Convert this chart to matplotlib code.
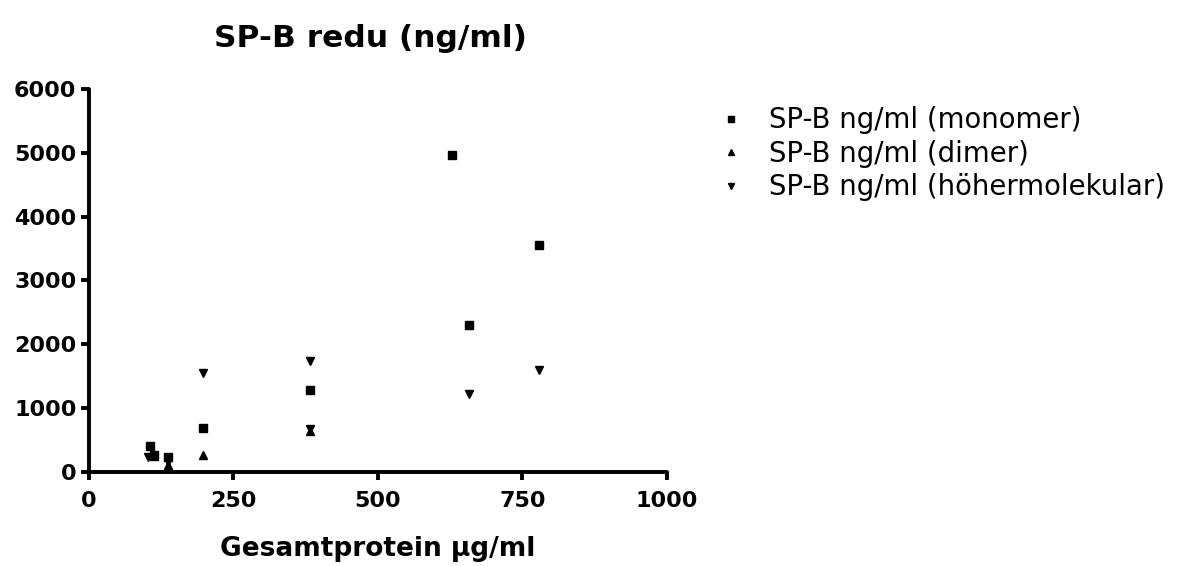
import matplotlib
matplotlib.use('Agg')
import matplotlib.pyplot as plt
import numpy as np

# ── data ─────────────────────────────────────────
x_mono = [105, 113, 137, 198, 383, 628, 657, 779]
y_mono = [410, 255, 225, 685, 1285, 4970, 2300, 3560]

x_dimer = [113, 137, 198, 383]
y_dimer = [250, 110, 265, 640]

x_hoch = [103, 137, 198, 383, 383, 657, 779]
y_hoch = [231, 145, 1540, 1730, 665, 1222, 1590]

labels = ['SP-B ng/ml (monomer)', 'SP-B ng/ml (dimer)', 'SP-B ng/ml (höhermolekular)']
xticks = [0, 250, 500, 750, 1000]
yticks = [0, 1000, 2000, 3000, 4000, 5000, 6000]

plt.rcParams['font.family'] = ['DejaVu Sans']

fig = plt.figure(figsize=(11.83, 5.66), dpi=100)
ax = fig.add_axes([0.0752, 0.1666, 0.4886, 0.6762])

ax.plot(x_mono, y_mono, 's', color='black', markersize=5.8, label=labels[0], clip_on=False)
ax.plot(x_dimer, y_dimer, '^', color='black', markersize=6.2, label=labels[1], clip_on=False)
ax.plot(x_hoch, y_hoch, 'v', color='black', markersize=6.2, label=labels[2], clip_on=False)

ax.set_xlim(0, 1000)
ax.set_ylim(0, 6000)
ax.set_xticks(xticks)
ax.set_yticks(yticks)

for side in ['top', 'right']:
    ax.spines[side].set_visible(False)
for side in ['left', 'bottom']:
    ax.spines[side].set_linewidth(2.8)
    ax.spines[side].set_capstyle('round')
ax.tick_params(direction='out', length=6, width=2.8, labelsize=16, pad=3)
ax.tick_params(axis='x', pad=8)
for lbl in ax.get_xticklabels() + ax.get_yticklabels():
    lbl.set_fontweight('bold')

ax.set_xlabel('Gesamtprotein µg/ml', fontsize=19, fontweight='bold', labelpad=18)
ax.set_title('SP-B redu (ng/ml)', fontsize=22.5, fontweight='bold', pad=30, x=0.487)

leg = ax.legend(loc='upper left', bbox_to_anchor=(0.585, 0.856),
                bbox_transform=fig.transFigure, frameon=False,
                fontsize=19.8, markerscale=0.75, handlelength=1.0,
                handletextpad=0.88, labelspacing=0.2)

fig.savefig('out.png', dpi=100)
